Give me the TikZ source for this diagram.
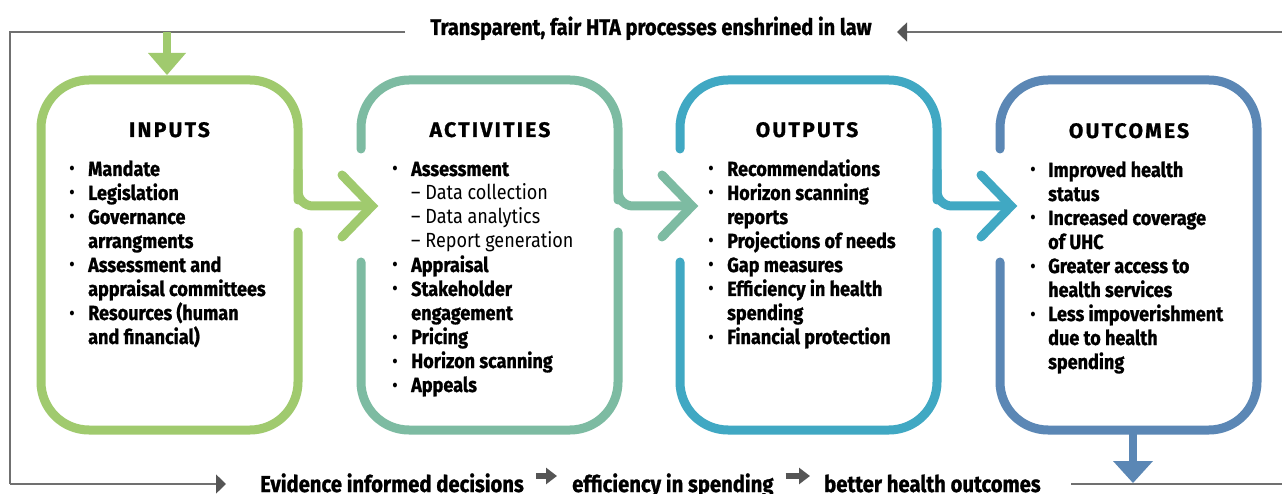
\documentclass[tikz,border=0pt]{standalone}
\usepackage{fontspec}
\setmainfont{Fira Sans}[FakeStretch=0.88, BoldFeatures={FakeBold=1.0}]
\newfontfamily\titlefont{Fira Sans}[LetterSpace=11, BoldFeatures={FakeBold=1.0}]
\usetikzlibrary{arrows.meta,calc}
\definecolor{cgreen}{HTML}{A0CA6E}
\definecolor{cteal}{HTML}{7DBBA2}
\definecolor{ccyan}{HTML}{40A8C3}
\definecolor{cblue}{HTML}{5B87B5}
\definecolor{lgray}{HTML}{707070}
\definecolor{agray}{HTML}{555555}
\tikzset{
  boxline/.style={line width=9pt, line cap=round},
  chev/.style={line width=9pt, line cap=round, line join=miter},
  gline/.style={draw=lgray, line width=1.4pt},
  gtip/.style={-{Triangle[length=10pt,width=19pt,color=agray]}},
  item/.style={anchor=base west, inner sep=0pt, font=\fontsize{20.5}{24}\selectfont\bfseries},
  bul/.style={anchor=base, inner sep=0pt, font=\fontsize{20.5}{24}\selectfont},
  ttl/.style={anchor=base, inner sep=0pt, font=\titlefont\fontsize{21}{24}\selectfont\bfseries},
  band/.style={anchor=base, inner sep=0pt, font=\fontsize{22.7}{24}\selectfont\bfseries},
  bandb/.style={anchor=base west, inner sep=0pt, font=\fontsize{23}{24}\selectfont\bfseries},
  bandarrow/.style={agray, line width=5.5pt, -{Triangle[length=11pt,width=16pt]}},
}
\begin{document}
\begin{tikzpicture}[x=1pt,y=-1pt]
\useasboundingbox[fill=white] (0,0) rectangle (1282,494);

% ---------- boxes ----------
% INPUTS
\draw[boxline, cgreen, rounded corners=48pt] (298,232) -- (298,430) -- (41,430) -- (41,80) -- (298,80) -- (298,200);
\draw[boxline, cgreen, rounded corners=15pt] (298,170) -- (298,206) -- (366,206);
\draw[chev, cgreen] (342,175) -- (372,206) -- (342,237);
% ACTIVITIES
\draw[boxline, cteal, rounded corners=48pt] (361,149) -- (361,80) -- (618,80) -- (618,200);
\draw[boxline, cteal, rounded corners=15pt] (618,170) -- (618,206) -- (686,206);
\draw[chev, cteal] (662,175) -- (692,206) -- (662,237);
\draw[boxline, cteal, rounded corners=48pt] (618,232) -- (618,430) -- (361,430) -- (361,262);
% OUTPUTS
\draw[boxline, ccyan, rounded corners=48pt] (680,149) -- (680,80) -- (937,80) -- (937,200);
\draw[boxline, ccyan, rounded corners=15pt] (937,170) -- (937,206) -- (1005,206);
\draw[chev, ccyan] (981,175) -- (1011,206) -- (981,237);
\draw[boxline, ccyan, rounded corners=48pt] (937,232) -- (937,430) -- (680,430) -- (680,262);
% OUTCOMES
\draw[boxline, cblue, rounded corners=48pt] (1000,149) -- (1000,80) -- (1257,80) -- (1257,430) -- (1000,430) -- (1000,262);

% ---------- frame lines ----------
\node[band] (toptext) at (651,35) {Transparent, fair HTA processes enshrined in law};
\coordinate (tl) at (10,32);
\coordinate (tlend) at (405,32);
\coordinate (tr) at (1282,32);
\coordinate (trend) at (897,32);
\coordinate (bl) at (10,484);
\coordinate (blend) at (226,484);
\coordinate (brs) at (1071,484);
\coordinate (bre) at (1282,484);
\draw[gline] (tlend) -- (tl) -- (bl);
\draw[gline, gtip] (bl) -- (blend);
\draw[gline, gtip] (tr) -- (trend);
\draw[gline] (brs) -- (bre);

% down arrows
\fill[cgreen] (163,32) rectangle (171,55);
\fill[cgreen] (148,53) -- (186,53) -- (167,75) -- cycle;
\fill[cblue] (1129,430) rectangle (1137,462);
\fill[cblue] (1113,461) -- (1153,461) -- (1133,483) -- cycle;

% ---------- titles ----------
\node[ttl] (t1) at (169.5,137) {INPUTS};
\node[ttl] (t2) at (490,137) {ACTIVITIES};
\node[ttl] (t3) at (807,137) {OUTPUTS};
\node[ttl] (t4) at (1129,138) {OUTCOMES};

% ---------- items ----------
\foreach \b/\t [count=\i] in {1/Mandate, 1/Legislation, 1/Governance, 0/arrangments, 1/Assessment and, 0/appraisal committees, 1/Resources (human, 0/and financial)}{
  \node[item, name=a\i] at (88,{176+24*(\i-1)}) {\t};
  \ifnum\b=1 \node[bul, name=ab\i] at (72,{176+24*(\i-1)}) {•};\fi
}
\foreach \b/\t [count=\i] in {1/Assessment, 2/– Data collection, 2/– Data analytics, 2/– Report generation, 1/Appraisal, 1/Stakeholder, 0/engagement, 1/Pricing, 1/Horizon scanning, 1/Appeals}{
  \node[item, name=b\i] at (411,{176+24*(\i-1)}) {\ifnum\b=2 \mdseries\fi\t};
  \ifnum\b=1 \node[bul, name=bb\i] at (395,{176+24*(\i-1)}) {•};\fi
}
\foreach \b/\t [count=\i] in {1/Recommendations, 1/Horizon scanning, 0/reports, 1/Projections of needs, 1/Gap measures, 1/Efficiency in health, 0/spending, 1/Financial protection}{
  \node[item, name=c\i] at (727,{176+24*(\i-1)}) {\t};
  \ifnum\b=1 \node[bul, name=cb\i] at (711,{176+24*(\i-1)}) {•};\fi
}
\foreach \b/\t [count=\i] in {1/Improved health, 0/status, 1/Increased coverage, 0/of UHC, 1/Greater access to, 0/health services, 1/Less impoverishment, 0/due to health, 0/spending}{
  \node[item, name=d\i] at (1048,{177+24*(\i-1)}) {\t};
  \ifnum\b=1 \node[bul, name=db\i] at (1033,{177+24*(\i-1)}) {•};\fi
}

% ---------- bottom band ----------
\node[bandb] (ev) at (260,492) {Evidence informed decisions};
\node[bandb] (ef) at (572,492) {efficiency in spending};
\node[bandb] (bh) at (824,492) {better health outcomes};
\draw[bandarrow] ($(ev.base east)+(12,-16)$) -- ($(ef.base west)+(-15,-16)$);
\draw[bandarrow] ($(ef.base east)+(12,-16)$) -- ($(bh.base west)+(-14,-16)$);
\end{tikzpicture}
\end{document}
